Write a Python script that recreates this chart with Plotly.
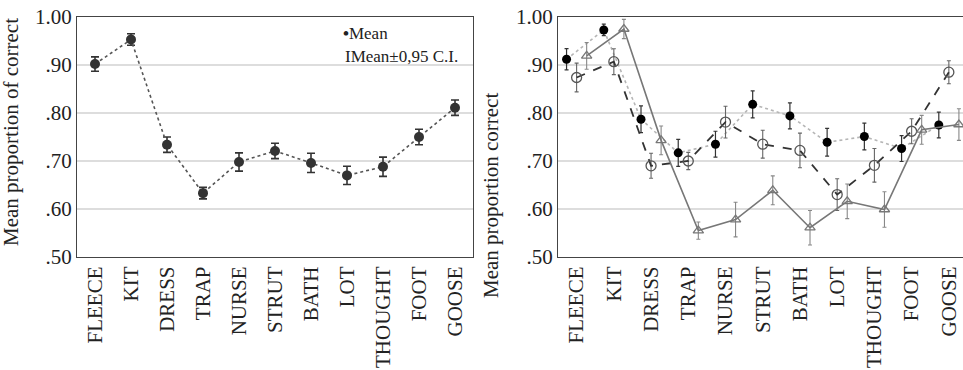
import plotly.graph_objects as go

categories = ["FLEECE", "KIT", "DRESS", "TRAP", "NURSE", "STRUT", "BATH", "LOT", "THOUGHT", "FOOT", "GOOSE"]

left_mean = [0.902, 0.953, 0.734, 0.633, 0.698, 0.721, 0.696, 0.670, 0.688, 0.750, 0.811]
left_ci = [0.015, 0.012, 0.016, 0.012, 0.019, 0.016, 0.020, 0.019, 0.020, 0.016, 0.016]

filled_mean = [0.912, 0.973, 0.787, 0.717, 0.735, 0.818, 0.794, 0.739, 0.751, 0.726, 0.775]
filled_ci = [0.022, 0.012, 0.028, 0.028, 0.027, 0.028, 0.027, 0.029, 0.028, 0.027, 0.027]
open_mean = [0.874, 0.907, 0.690, 0.700, 0.781, 0.735, 0.722, 0.630, 0.691, 0.762, 0.885]
open_ci = [0.030, 0.027, 0.026, 0.018, 0.033, 0.029, 0.036, 0.033, 0.035, 0.026, 0.024]
tri_mean = [0.919, 0.975, 0.743, 0.555, 0.578, 0.639, 0.561, 0.616, 0.599, 0.765, 0.776]
tri_ci = [0.028, 0.020, 0.030, 0.018, 0.036, 0.030, 0.036, 0.036, 0.037, 0.030, 0.033]

y_ticks = [0.5, 0.6, 0.7, 0.8, 0.9, 1.0]
y_ticktext = [".50", ".60", ".70", ".80", ".90", "1.00"]

FONT = "Liberation Serif"
idx = list(range(len(categories)))
OFF = 0.27

fig = go.Figure()

# Left panel
fig.add_trace(go.Scatter(
    x=idx, y=left_mean, mode="lines+markers", xaxis="x", yaxis="y",
    line=dict(color="#555555", width=1.6, dash="dot"),
    marker=dict(symbol="circle", size=10, color="#333333"),
    error_y=dict(type="data", array=left_ci, color="#333333", thickness=1.6, width=4),
    showlegend=False))

# Right panel
fig.add_trace(go.Scatter(
    x=[i - OFF for i in idx], y=filled_mean, mode="lines+markers", xaxis="x2", yaxis="y2",
    line=dict(color="#b5b5b5", width=1.6, dash="dot"),
    marker=dict(symbol="circle", size=9, color="#000000"),
    error_y=dict(type="data", array=filled_ci, color="#333333", thickness=1.2, width=2),
    showlegend=False))
fig.add_trace(go.Scatter(
    x=idx, y=open_mean, mode="lines+markers", xaxis="x2", yaxis="y2",
    line=dict(color="#333333", width=1.8, dash="dash"),
    marker=dict(symbol="circle-open", size=10, color="#555555", line=dict(width=1.3)),
    error_y=dict(type="data", array=open_ci, color="#666666", thickness=1.1, width=2),
    showlegend=False))
fig.add_trace(go.Scatter(
    x=[i + OFF for i in idx], y=tri_mean, mode="lines+markers", xaxis="x2", yaxis="y2",
    line=dict(color="#777777", width=1.6),
    marker=dict(symbol="triangle-up-open", size=9, color="#777777", line=dict(width=1.3)),
    error_y=dict(type="data", array=tri_ci, color="#888888", thickness=1.1, width=2),
    showlegend=False))

W, H = 963, 370
T, B = 17, 113
xaxis_common = dict(showline=True, linecolor="#444444", linewidth=1.2, mirror=True,
                    tickfont=dict(family=FONT, size=21, color="#222222"),
                    automargin=False, tickmode="array", tickvals=idx, ticktext=categories,
                    tickangle=-90, showgrid=False, zeroline=False, ticks="")
yaxis_common = dict(domain=[0, 1], range=[0.5, 1.0], tickvals=y_ticks, ticktext=y_ticktext,
                    showgrid=True, gridcolor="#dddddd", gridwidth=1.5, zeroline=False,
                    ticks="", tickfont=dict(family=FONT, size=21, color="#222222"),
                    showline=True, linecolor="#444444", linewidth=1.2, mirror=True,
                    automargin=False)
fig.update_layout(
    width=W, height=H,
    margin=dict(l=0, r=0, t=T, b=B, autoexpand=False),
    paper_bgcolor="white", plot_bgcolor="white",
    font=dict(family=FONT, color="#222222"),
    xaxis=dict(domain=[77 / W, 473 / W], range=[-0.5, 10.5], **xaxis_common),
    yaxis=dict(**yaxis_common),
    xaxis2=dict(domain=[558 / W, 1.0], range=[-0.5, 10.38], anchor="y2", **xaxis_common),
    yaxis2=dict(anchor="x2", **yaxis_common),
)

ph = H - T - B
def py(ypix):
    return (H - B - ypix) / ph

fig.add_annotation(text="Mean proportion of correct", textangle=-90, xref="paper", yref="paper",
                   x=11 / W, y=py(132), showarrow=False, xanchor="center", yanchor="middle",
                   font=dict(family=FONT, size=21, color="#222222"))
fig.add_annotation(text="Mean proportion correct", textangle=-90, xref="paper", yref="paper",
                   x=491 / W, y=py(196), showarrow=False, xanchor="center", yanchor="middle",
                   font=dict(family=FONT, size=21, color="#222222"))

# Legend of left panel
fig.add_annotation(text="<b>•</b>Mean", xref="paper", yref="paper", x=341 / W, y=py(33),
                   showarrow=False, xanchor="left", yanchor="middle",
                   font=dict(family=FONT, size=17, color="#222222"))
fig.add_annotation(text="IMean±0,95 C.I.", xref="paper", yref="paper", x=343 / W, y=py(57),
                   showarrow=False, xanchor="left", yanchor="middle",
                   font=dict(family=FONT, size=17, color="#222222"))

fig.write_html("out.html", config={"displayModeBar": False},
               post_script="document.body.style.margin='0';document.body.style.overflow='hidden';")
